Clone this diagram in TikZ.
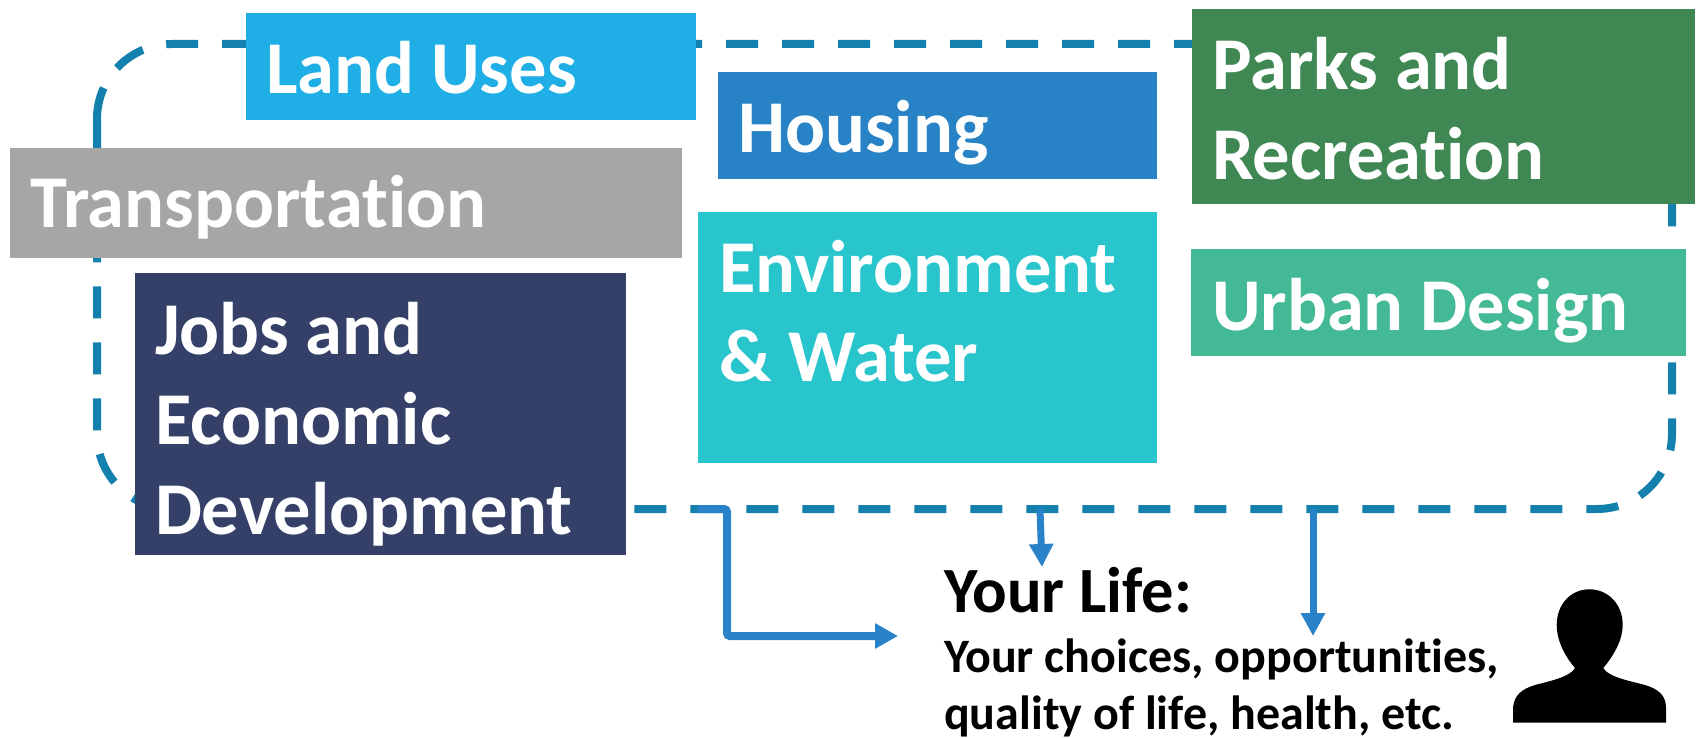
\documentclass[tikz,border=0pt]{standalone}
\usepackage{fontspec}
\setmainfont{Carlito}[Ligatures=NoCommon]
\usetikzlibrary{arrows.meta}
\definecolor{cLand}{HTML}{1FAEE6}
\definecolor{cHousing}{HTML}{2782C6}
\definecolor{cParks}{HTML}{3F8753}
\definecolor{cTrans}{HTML}{A6A6A6}
\definecolor{cEnv}{HTML}{28C5CC}
\definecolor{cUrban}{HTML}{43B996}
\definecolor{cJobs}{HTML}{344068}
\definecolor{cFrame}{HTML}{1380AD}
\definecolor{cArrow}{HTML}{2A82C8}
\newcommand{\boxline}[2]{\hbox to \hsize{\hskip#1pt\smash{#2}\hss}}
\tikzset{
  topicbox/.style={anchor=north west,inner sep=0pt,outer sep=0pt,text=white,font=\bfseries\fontsize{74.5}{90}\selectfont},
  frameline/.style={cFrame,line width=8pt,dash pattern=on 32pt off 24pt},
  bigarrow/.style={cArrow,line width=8pt,rounded corners=3pt,-{Triangle[length=23pt,width=24pt,inset=0pt]}},
  thinarrow/.style={cArrow,line width=7pt,-{Triangle[length=23pt,width=23pt,inset=0pt]}},
  lifetext/.style={anchor=base west,inner sep=0pt,font=\bfseries}
}
% name, x, y, w, h, colour, first baseline offset, lines
\newcommand{\topic}[8]{%
  \node[topicbox,fill=#6] (#1) at (#2,#3) {\vbox to #5pt{\hsize=#4pt\offinterlineskip\vskip#7pt #8\vfil}};}
\begin{document}
\begin{tikzpicture}[x=1pt,y=-1pt]
\useasboundingbox (0,0) rectangle (1698,738);
\fill[white] (0,0) rectangle (1698,738);
% dashed frame
\draw[frameline] (97,119) arc[start angle=180,end angle=270,radius=75] -- (1597,44)
  arc[start angle=270,end angle=360,radius=75] -- (1672,434)
  arc[start angle=0,end angle=90,radius=75] -- (172,509)
  arc[start angle=90,end angle=180,radius=75] -- cycle;
\coordinate (a1s) at (698,509);
\coordinate (a1m) at (727,636);
\coordinate (a1e) at (898,636);
\coordinate (a2s) at (1040,509);
\coordinate (a2e) at (1042,567);
\coordinate (a3s) at (1313,509);
\coordinate (a3e) at (1313,636);
\draw[bigarrow] (a1s) -| (a1m) -- (a1e);
\draw[thinarrow] (a2s) -- (a2e);
\draw[thinarrow] (a3s) -- (a3e);
% boxes
\topic{land}{246}{13}{450}{107}{cLand}{81}{\boxline{20}{Land Uses}}
\topic{housing}{718}{72}{439}{107}{cHousing}{81}{\boxline{20}{Housing}}
\topic{parks}{1192}{9.5}{503}{194.5}{cParks}{80}{\boxline{20}{Parks and}\vskip90pt\boxline{20}{Recreation}}
\topic{trans}{10}{148}{672}{110}{cTrans}{80}{\boxline{20}{Transportation}}
\topic{env}{698}{212}{459}{251}{cEnv}{80}{\boxline{21}{Environment}\vskip89pt\boxline{21}{\&\ Water}}
\topic{urban}{1191}{249}{495}{107}{cUrban}{81}{\boxline{21}{Urban Design}}
\topic{jobs}{135}{273}{491}{282}{cJobs}{81}{\boxline{20}{Jobs and}\vskip90pt\boxline{20}{Economic}\vskip90pt\boxline{20}{Development}}
% your life
\node[lifetext,font=\bfseries\fontsize{64.5}{70}\selectfont] (life) at (944,612) {Your Life:};
\node[lifetext,font=\bfseries\fontsize{48}{58}\selectfont] (life2) at (944,672) {Your choices, opportunities,};
\node[lifetext,font=\bfseries\fontsize{48}{58}\selectfont] (life3) at (944,729) {quality of life, health, etc.};
% person
\fill[black] (1513,722.7) -- (1513,708) .. controls (1514,695) and (1522,689) .. (1535,685)
  .. controls (1550,681) and (1570,677) .. (1575,668)
  .. controls (1564,655) and (1556.7,640) .. (1556.7,625)
  .. controls (1556.7,604) and (1571,589.3) .. (1589.3,589.3)
  .. controls (1608,589.3) and (1622.7,604) .. (1622.7,625)
  .. controls (1622.7,640) and (1614,655) .. (1603.3,668)
  .. controls (1608,677) and (1630,681) .. (1645,685)
  .. controls (1658,689) and (1666,695) .. (1666,708) -- (1666,722.7) -- cycle;
\end{tikzpicture}
\end{document}
